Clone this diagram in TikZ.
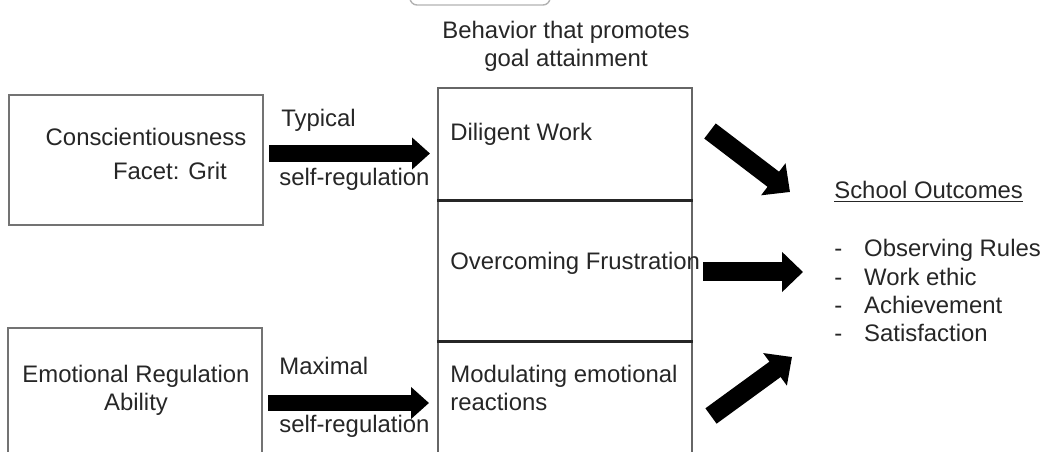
\documentclass[tikz,border=0pt]{standalone}
\usepackage{fontspec}
\setmainfont{Liberation Sans}
\usetikzlibrary{arrows.meta, positioning}

\tikzset{
  txt/.style={font=\fontsize{13.6}{16}\selectfont, text=black!85, inner sep=0pt},
  framebox/.style={draw=black!55, line width=0.8pt},
  colbox/.style={draw=black!60, line width=1pt, minimum width=5.08cm},
  divline/.style={draw=black!85, line width=1.6pt},
  thinarrow/.style={line width=0.33cm, -{Triangle[length=0.36cm, width=0.62cm]}},
  fatarrow/.style={line width=0.38cm, -{Triangle[length=0.42cm, width=0.78cm]}}
}

\begin{document}
\begin{tikzpicture}[x=0.02cm, y=-0.02cm]
  \useasboundingbox (0,0) rectangle (1046,452);
  \clip (0,0) rectangle (1046,452);
  % box cut off at the top
  \draw[black!30, line width=0.8pt, rounded corners=4pt] (410,-30) rectangle (550,5);
  % heading
  \node[txt, align=center, anchor=base, font=\fontsize{13.6}{16.5}\selectfont] (heading) at (566,67) {Behavior that promotes\\goal attainment};

  % left boxes
  \node[framebox, minimum width=5.08cm, minimum height=2.6cm] (consc) at (136,160) {};
  \node[txt, align=center, anchor=base, font=\fontsize{13.6}{19.8}\selectfont] (consctext) at (146,180) {Conscientiousness\\\hspace*{2em}Facet: Grit};
  \node[framebox, minimum width=5.08cm, minimum height=3cm] (emoreg) at (135,403) {};
  \node[txt, align=center, anchor=base] (emoregtext) at (136,411) {Emotional Regulation\\Ability};

  % middle column
  \node[colbox, minimum height=2.24cm] (diligent) at (565,144) {};
  \node[colbox, minimum height=2.82cm] (frustr) at (565,270.5) {};
  \node[colbox, minimum height=2.78cm] (modul) at (565,410.5) {};
  \draw[divline] (diligent.south west) -- (diligent.south east);
  \draw[divline] (frustr.south west) -- (frustr.south east);
  \node[txt, anchor=base west] (diligenttext) at (450,141) {Diligent Work};
  \node[txt, anchor=base west] (frustrtext) at (450,270) {Overcoming Frustration};
  \node[txt, align=left, anchor=base west] (modultext) at (450,411) {Modulating emotional\\reactions};

  % arrows into the column
  \coordinate (typs) at (269,153.5);
  \coordinate (type) at (430,153.5);
  \coordinate (maxs) at (268,403);
  \coordinate (maxe) at (429,403);
  \draw[thinarrow] (typs) -- (type);
  \draw[thinarrow] (maxs) -- (maxe);
  \node[txt, anchor=base west] (typical) at (281,127) {Typical};
  \node[txt, anchor=base west] (typself) at (279,186) {self-regulation};
  \node[txt, anchor=base west] (maximal) at (279,375) {Maximal};
  \node[txt, anchor=base west] (maxself) at (279,433) {self-regulation};

  % arrows to the outcomes
  \coordinate (outas) at (710,131);
  \coordinate (outae) at (790,192);
  \coordinate (outbs) at (703,272);
  \coordinate (outbe) at (803,272);
  \coordinate (outcs) at (711,416);
  \coordinate (outce) at (792,357);
  \draw[fatarrow] (outas) -- (outae);
  \draw[fatarrow] (outbs) -- (outbe);
  \draw[fatarrow] (outcs) -- (outce);

  % outcomes
  \node[txt, anchor=base west] (outcomes) at (834,199) {\underline{School Outcomes}};
  \node[txt, align=left, anchor=base west, font=\fontsize{13.6}{16.2}\selectfont] (outlist) at (834,342)
    {\makebox[1.25em][l]{-}Observing Rules\\\makebox[1.25em][l]{-}Work ethic\\\makebox[1.25em][l]{-}Achievement\\\makebox[1.25em][l]{-}Satisfaction};
\end{tikzpicture}
\end{document}
